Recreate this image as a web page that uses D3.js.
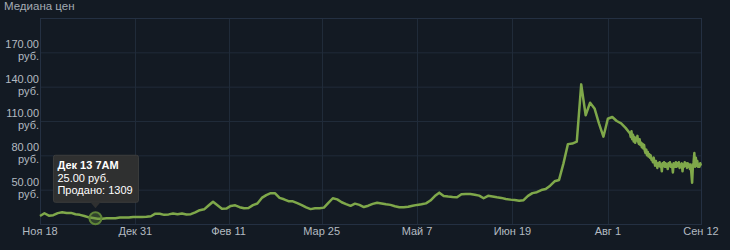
<!DOCTYPE html>
<html>
<head>
<meta charset="utf-8">
<script src="https://cdn.jsdelivr.net/npm/d3@7"></script>
<style>
  html, body { margin: 0; padding: 0; background: #131a23; }
  svg { display: block; }
</style>
</head>
<body>
<div id="chart"></div>
<script>
// daily medians, one every 2 days from Nov 18
var dailyStart = "2022-11-18";
var dailyStepDays = 2;
var dailyPrices = [
  27, 29.4, 27.3, 27.7, 29.5, 30.3, 29.6, 29.7, 28.5, 28, 27, 25.8, 25.3, 24.6, 24.6, 25,
  25.1, 25, 25.6, 25.7, 25.6, 26.2, 26.2, 26.1, 26.3, 26.8, 29, 29, 28, 28.4, 29.1, 28.6,
  29.2, 28.3, 28.6, 30.1, 32.1, 32.8, 36.2, 39.5, 36.4, 33.4, 33.5, 35.8, 36.3, 34.7, 33.7, 34,
  36.5, 37.9, 42.8, 45.2, 46.9, 46.8, 42.8, 41.6, 39.9, 39.8, 38.2, 36.5, 34.5, 33, 33.7, 33.7,
  34.3, 38.5, 42.5, 41.5, 39, 37.4, 35.9, 37.8, 36.7, 34.8, 36, 37.6, 38.6, 38, 37.3, 36.7,
  35.5, 34.7, 34.6, 35, 36, 36.7, 37.2, 38, 40.5, 44.4, 47.4, 44.5, 44, 43.6, 43.3, 46,
  46.2, 46.2, 45.6, 44.8, 42.5, 44.6, 44, 43.3, 42.8, 41.9, 41.3, 40.9, 40.4, 40.8, 44.6, 47,
  47.8, 49.7, 50.5, 53.5, 57.3, 58.5, 73, 89.8, 90.3, 91.9, 142, 115, 126, 121, 108, 96.3,
  112, 113.5, 110, 108, 104
];

// last month, one value every 8 hours from Aug 11
var hourlyStart = "2023-08-11";
var hourlyStepHours = 8;
var hourlyPrices = [
  99, 96, 101, 94, 98, 92, 96, 91, 95, 93, 97, 92, 90, 94, 89, 91, 87, 90,
  86, 89, 84, 82, 85, 80, 83, 79, 81, 78, 80, 76, 77, 74, 78, 74, 71, 75,
  72, 69, 73, 71, 74, 70, 72, 66, 73, 71, 74, 70, 73, 70, 72, 68, 73, 71,
  74, 70, 72, 71, 65, 73, 72, 70, 74, 70, 73, 71, 74, 69, 72, 71, 73, 66,
  72, 70, 74, 71, 73, 69, 73, 70, 72, 68, 72, 64, 56, 70, 74, 82, 70, 78,
  71, 75, 70, 72, 70, 73, 71
];

var xTickDates = ["2022-11-18", "2022-12-31", "2023-02-11", "2023-03-25", "2023-05-07", "2023-06-19", "2023-08-01", "2023-09-12"];
var xTickLabels = ["Ноя 18", "Дек 31", "Фев 11", "Мар 25", "Май 7", "Июн 19", "Авг 1", "Сен 12"];
var yTicks = [50, 80, 110, 140, 170];
var yDomain = [20, 200];

// hovered point
var tipDate = "2022-12-13";
var tipLines = ["Дек 13 7AM", "25.00 руб.", "Продано: 1309"];
var tipPrice = 25;

var parse = d3.utcParse("%Y-%m-%d");

var data = [];
dailyPrices.forEach(function(v, i) {
  data.push({date: d3.utcDay.offset(parse(dailyStart), i * dailyStepDays), price: v});
});
hourlyPrices.forEach(function(v, i) {
  data.push({date: d3.utcHour.offset(parse(hourlyStart), i * hourlyStepHours), price: v});
});

var w = 730, h = 250;
var margin = {top: 18, right: 29, bottom: 26, left: 40};
var iw = w - margin.left - margin.right, ih = h - margin.top - margin.bottom;

var svg = d3.select("#chart").append("svg").attr("width", w).attr("height", h);
svg.append("rect").attr("width", w).attr("height", h).attr("fill", "#131a23");

var x = d3.scaleUtc()
  .domain([parse(xTickDates[0]), parse(xTickDates[xTickDates.length - 1])])
  .range([0, iw]);
var y = d3.scaleLinear().domain(yDomain).range([ih, 0]);

var g = svg.append("g").attr("transform", "translate(" + margin.left + "," + margin.top + ")");

// grid
g.append("g").selectAll("line").data(yTicks).enter().append("line")
  .attr("x1", 0).attr("x2", iw)
  .attr("y1", function(d) { return y(d) + 0.5; }).attr("y2", function(d) { return y(d) + 0.5; })
  .attr("stroke", "#202b39").attr("stroke-width", 1);
g.append("g").selectAll("line").data(xTickDates.slice(1, -1)).enter().append("line")
  .attr("y1", 0).attr("y2", ih)
  .attr("x1", function(d) { return Math.round(x(parse(d))) + 0.5; })
  .attr("x2", function(d) { return Math.round(x(parse(d))) + 0.5; })
  .attr("stroke", "#202b39").attr("stroke-width", 1);
g.append("rect").attr("x", 0.5).attr("y", 0.5).attr("width", iw).attr("height", ih)
  .attr("fill", "none").attr("stroke", "#243042").attr("stroke-width", 1);

var font = "Arial, 'Liberation Sans', sans-serif";

// y labels (two lines)
var yl = g.append("g").selectAll("text").data(yTicks).enter().append("text")
  .attr("text-anchor", "end").attr("fill", "#b3bac1")
  .style("font-family", font).style("font-size", "11px");
yl.append("tspan").attr("x", -1).attr("y", function(d) { return y(d) - 4; })
  .text(function(d) { return d.toFixed(2); });
yl.append("tspan").attr("x", -1).attr("y", function(d) { return y(d) + 8; })
  .text("руб.");

// x labels
g.append("g").selectAll("text").data(xTickDates).enter().append("text")
  .attr("x", function(d) { return x(parse(d)); })
  .attr("y", ih + 11)
  .attr("text-anchor", "middle").attr("fill", "#b3bac1")
  .style("font-family", font).style("font-size", "11px")
  .text(function(d, i) { return xTickLabels[i]; });

// title
svg.append("text").attr("x", 4).attr("y", 10).attr("fill", "#a3abb3")
  .style("font-family", font).style("font-size", "11.5px").text("Медиана цен");

// price line
var line = d3.line().x(function(d) { return x(d.date); }).y(function(d) { return y(d.price); });
g.append("path").datum(data).attr("d", line)
  .attr("fill", "none").attr("stroke", "#7fa84a").attr("stroke-width", 2.5)
  .attr("stroke-linejoin", "round");

// highlight + tooltip
var tx = x(parse(tipDate)), ty = y(tipPrice);
g.append("circle").attr("cx", tx).attr("cy", ty).attr("r", 6)
  .attr("fill", "rgba(104,143,62,0.35)").attr("stroke", "#5f8538").attr("stroke-width", 2);

var tip = g.append("g").attr("transform", "translate(" + (tx - 42) + "," + (ty - 63) + ")");
tip.append("rect").attr("width", 85).attr("height", 47).attr("rx", 2)
  .attr("fill", "#2f3030").attr("stroke", "#3c3d3d");
tip.append("path").attr("d", "M37,47 L42,53 L47,47 Z").attr("fill", "#2f3030");
tip.selectAll("text").data(tipLines).enter().append("text")
  .attr("x", 4).attr("y", function(d, i) { return 14 + i * 12.5; })
  .attr("fill", "#ffffff").style("font-family", font).style("font-size", "11px")
  .style("font-weight", function(d, i) { return i == 0 ? "bold" : "normal"; })
  .text(function(d) { return d; });
</script>
</body>
</html>
